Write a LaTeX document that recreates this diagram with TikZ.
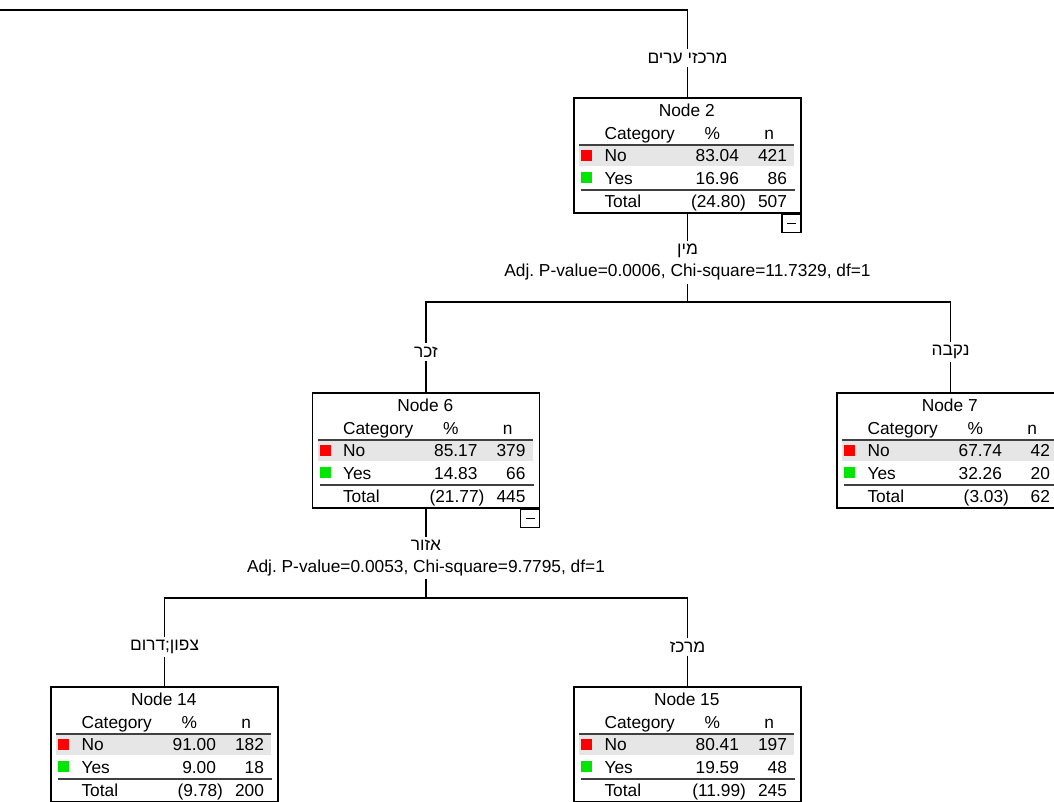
\documentclass[tikz,border=0pt]{standalone}
\usepackage{fontspec}
\setmainfont{Liberation Sans}
\newfontfamily\heb[Script=Hebrew]{Liberation Sans}
\TeXXeTstate=1
\frenchspacing
\usepackage{tikz}
\usetikzlibrary{positioning,calc}
\definecolor{rowgray}{HTML}{E6E6E6}
\definecolor{nodered}{HTML}{FF0000}
\definecolor{nodegreen}{HTML}{00E600}

\newcommand{\catnode}[9]{%
  \node[treebox] (#1) at #2 {};
  \begin{scope}[shift={(#1.north west)}]
    \fill[rowgray] (6,49) rectangle (221,69);
    \draw[tabrule] (6,48) -- (221,48);
    \draw[tabrule] (8,93) -- (222,93);
    \fill[nodered] (8,53) rectangle (19,64);
    \fill[nodegreen] (8,75) rectangle (19,86);
    \node[cell, anchor=base] (#1-title) at (113.5,19) {#3};
    \node[cell, anchor=base west] (#1-cat) at (31,42.5) {Category};
    \node[cell, anchor=base] (#1-pct) at (139,42.5) {\%};
    \node[cell, anchor=base] (#1-cnt) at (196,42.5) {n};
    \node[cell, anchor=base west] (#1-no) at (31,64) {No};
    \node[cell, anchor=base east] (#1-nop) at (166,64) {#4};
    \node[cell, anchor=base east] (#1-non) at (214,64) {#5};
    \node[cell, anchor=base west] (#1-yes) at (31,87) {Yes};
    \node[cell, anchor=base east] (#1-yesp) at (166,87) {#6};
    \node[cell, anchor=base east] (#1-yesn) at (214,87) {#7};
    \node[cell, anchor=base west] (#1-tot) at (31,110) {Total};
    \node[cell, anchor=base east] (#1-totp) at (173,110) {#8};
    \node[cell, anchor=base east] (#1-totn) at (214,110) {#9};
  \end{scope}
}
\newcommand{\collapsebox}[1]{%
  \node[minusbox, anchor=north east] (#1-minus) at (#1.south east) {};
}

\begin{document}
\begin{tikzpicture}[
    x=0.75pt, y=-0.75pt,
    treebox/.style={rectangle, draw, line width=1.1pt, inner sep=0pt,
                    minimum width=170.25pt, minimum height=86.25pt},
    minusbox/.style={rectangle, draw, line width=1.1pt, inner sep=0pt,
                     minimum width=14.25pt, minimum height=13.5pt,
                     path picture={\draw[line width=0.9pt] (path picture bounding box.center) +(-4.5,0) -- +(4.5,0);}},
    tabrule/.style={line width=1.2pt, black!75},
    cell/.style={inner sep=0pt, font=\fontsize{13}{16.5}\selectfont},
    branch/.style={inner sep=2.5pt, font=\fontsize{13}{16.5}\selectfont\heb},
    splitlabel/.style={inner sep=2pt, align=center, font=\fontsize{13}{16.5}\selectfont},
    edgeline/.style={line width=1pt}
]
\useasboundingbox (0,0) rectangle (1054,801);
\clip (0,0) rectangle (1054,801);

\catnode{n2}{(687.5,155.5)}{Node 2}{83.04}{421}{16.96}{86}{(24.80)}{507}
\collapsebox{n2}
\catnode{n6}{(426,450.5)}{Node 6}{85.17}{379}{14.83}{66}{(21.77)}{445}
\collapsebox{n6}
\catnode{n7}{(950.5,450.5)}{Node 7}{67.74}{42}{32.26}{20}{(3.03)}{62}
\catnode{n14}{(164.5,744.5)}{Node 14}{91.00}{182}{9.00}{18}{(9.78)}{200}
\catnode{n15}{(687.5,744.5)}{Node 15}{80.41}{197}{19.59}{48}{(11.99)}{245}

\coordinate (rootend) at (-5,10);
\node[branch] (l2) at (687.5,58) {\beginR מרכזי ערים\endR};
\draw[edgeline] (rootend) -| (l2);
\draw[edgeline] (l2) -- (n2);

\node[splitlabel] (s2) at (687.5,262.5) {{\heb\beginR מין\endR}\\Adj. P-value=0.0006, Chi-square=11.7329, df=1};
\coordinate (j2) at (687.5,302);
\draw[edgeline] (n2) -- (s2);
\draw[edgeline] (s2) -- (j2);
\node[branch] (l6) at (426,352) {\beginR זכר\endR};
\node[branch] (l7) at (950.5,352) {\beginR נקבה\endR};
\draw[edgeline] (l6) |- (j2) -| (l7);
\draw[edgeline] (l6) -- (n6);
\draw[edgeline] (l7) -- (n7);

\node[splitlabel] (s6) at (426,558) {{\heb\beginR אזור\endR}\\Adj. P-value=0.0053, Chi-square=9.7795, df=1};
\coordinate (j6) at (426,598);
\draw[edgeline] (n6) -- (s6);
\draw[edgeline] (s6) -- (j6);
\node[branch] (l14) at (164.5,647) {\beginR צפון;דרום\endR};
\node[branch] (l15) at (687.5,647) {\beginR מרכז\endR};
\draw[edgeline] (l14) |- (j6) -| (l15);
\draw[edgeline] (l14) -- (n14);
\draw[edgeline] (l15) -- (n15);
\end{tikzpicture}
\end{document}
